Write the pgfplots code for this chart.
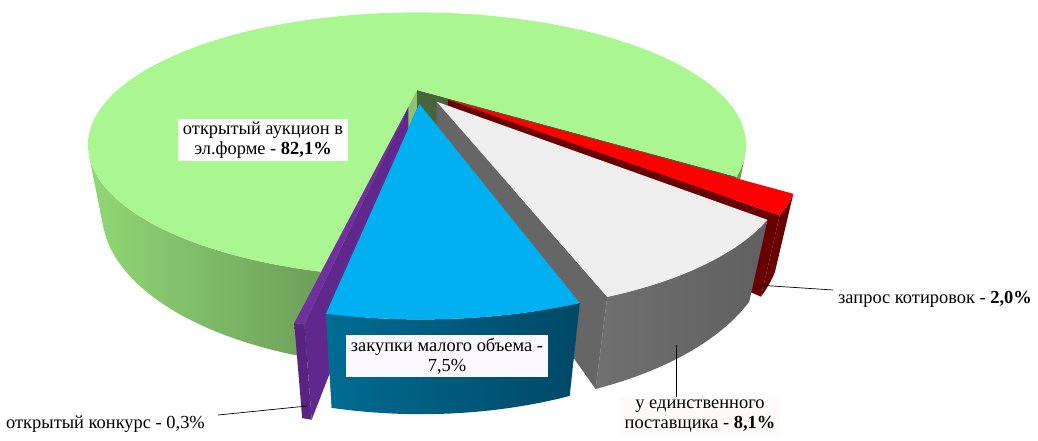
\documentclass[border=0pt]{standalone}
\usepackage{fontspec}
\setmainfont{Liberation Serif}
\usepackage{pgfplots}
\usepackage{pgfplotstable}
\pgfplotsset{compat=1.18}

\definecolor{gTop}{RGB}{170,246,144}
\definecolor{gWallL}{RGB}{145,215,118}
\definecolor{gWallR}{RGB}{108,158,88}
\definecolor{gFaceA}{RGB}{72,100,58}
\definecolor{gFaceB}{RGB}{140,195,110}
\definecolor{pTop}{RGB}{112,48,160}
\definecolor{pWall}{RGB}{88,36,128}
\definecolor{pFace}{RGB}{96,40,140}
\definecolor{bTop}{RGB}{0,176,240}
\definecolor{bWallL}{RGB}{0,108,146}
\definecolor{bWallR}{RGB}{0,72,102}
\definecolor{bFace}{RGB}{0,120,160}
\definecolor{wTop}{RGB}{238,238,238}
\definecolor{wWallL}{RGB}{112,112,112}
\definecolor{wWallR}{RGB}{96,96,96}
\definecolor{wFace}{RGB}{102,102,102}
\definecolor{rTop}{RGB}{255,0,0}
\definecolor{rWall}{RGB}{105,0,0}
\definecolor{boxA}{RGB}{251,249,255}
\definecolor{boxB}{RGB}{255,250,250}

\pgfplotstableread[col sep=comma]{
name,value
auction,82.1
contest,0.3
small,7.5
single,8.1
quote,2.0
}\piedata

% projection parameters (pixels)
\def\pcx{417}\def\pcy{90}\def\pf{672}\def\pD{2.244}\def\pc{0.9304}\def\ps{0.3665}\def\ph{0.225}
\def\ox{0}\def\oy{0}
\pgfmathdeclarefunction{pjx}{3}{\begingroup\pgfmathparse{\pcx+\pf*(\ox+(#2)*cos(#1))/(\pD+(\oy+(#2)*sin(#1))*\pc-(#3)*\ps)}\pgfmathsmuggle\pgfmathresult\endgroup}
\pgfmathdeclarefunction{pjy}{3}{\begingroup\pgfmathparse{\pcy-\pf*((\oy+(#2)*sin(#1))*\ps+(#3)*\pc)/(\pD+(\oy+(#2)*sin(#1))*\pc-(#3)*\ps)}\pgfmathsmuggle\pgfmathresult\endgroup}

\newcommand\setoff[3]{\pgfmathsetmacro\sm{(#1+#2)/2}\pgfmathsetmacro\ox{#3*cos(\sm)}\pgfmathsetmacro\oy{#3*sin(\sm)}}
\newcommand\face[2]{\fill[#2] ({pjx(0,0,0)},{pjy(0,0,0)}) -- ({pjx(#1,1,0)},{pjy(#1,1,0)}) -- ({pjx(#1,1,-\ph)},{pjy(#1,1,-\ph)}) -- ({pjx(0,0,-\ph)},{pjy(0,0,-\ph)}) -- cycle;}
\newcommand\wall[4]{\shade[left color=#3,right color=#4] plot[domain=#1:#2,samples=30,variable=\t] ({pjx(\t,1,0)},{pjy(\t,1,0)}) -- plot[domain=#2:#1,samples=30,variable=\t] ({pjx(\t,1,-\ph)},{pjy(\t,1,-\ph)}) -- cycle;}
\newcommand\toppart[4]{\fill[#3] ({pjx(0,0,0)},{pjy(0,0,0)}) -- plot[domain=#1:#2,samples=#4,variable=\t] ({pjx(\t,1,0)},{pjy(\t,1,0)}) -- cycle;}
\newcommand\lblfont{\fontsize{18.5}{20}\selectfont}

\begin{document}
\begin{tikzpicture}
\pgfplotstablegetelem{0}{value}\of\piedata \pgfmathsetmacro\vG{\pgfplotsretval*3.6}%
\pgfplotstablegetelem{1}{value}\of\piedata \pgfmathsetmacro\vP{\pgfplotsretval*3.6}%
\pgfplotstablegetelem{2}{value}\of\piedata \pgfmathsetmacro\vB{\pgfplotsretval*3.6}%
\pgfplotstablegetelem{3}{value}\of\piedata \pgfmathsetmacro\vW{\pgfplotsretval*3.6}%
\pgfplotstablegetelem{4}{value}\of\piedata \pgfmathsetmacro\vR{\pgfplotsretval*3.6}%
\def\aP{-101}%
\pgfmathsetmacro\aB{\aP+\vP}%
\pgfmathsetmacro\aW{\aB+\vB}%
\pgfmathsetmacro\aR{\aW+\vW}%
\pgfmathsetmacro\aG{\aR+\vR}%
\pgfmathsetmacro\eG{\aG+\vG}%
\begin{axis}[hide axis, scale only axis, width=1038bp, height=441bp,
  xmin=0, xmax=1038, ymin=0, ymax=441, y dir=reverse, clip=false]
\pgfplotsextra{%
  % green (not exploded)
  \setoff{\aG}{\eG}{0}%
  \face{\eG}{gFaceB}%
  \face{\aG}{gFaceA}%
  \wall{208.6}{\eG}{gWallL}{gWallR}%
  \wall{\aG}{-28.6}{gWallR}{gWallR}%
  \toppart{\aG}{\eG}{gTop}{150}%
  % red
  \setoff{\aR}{\aG}{0.13}%
  \face{\aR}{rWall}%
  \wall{\aR}{\aG}{rWall}{rWall}%
  \toppart{\aR}{\aG}{rTop}{6}%
  % white / grey
  \setoff{\aW}{\aR}{0.12}%
  \face{\aW}{wFace}%
  \wall{\aW}{\aR}{wWallL}{wWallR}%
  \toppart{\aW}{\aR}{wTop}{30}%
  % purple
  \setoff{\aP}{\aB}{0.15}%
  \face{\aB}{pFace}%
  \wall{\aP}{\aB}{pWall}{pWall}%
  \toppart{\aP}{\aB}{pTop}{3}%
  % blue
  \setoff{\aB}{\aW}{0.12}%
  \face{\aB}{bFace}%
  \wall{\aB}{\aW}{bWallL}{bWallR}%
  \toppart{\aB}{\aW}{bTop}{30}%
  % leader lines
  \draw[black, line width=0.7bp] (757,285) -- (833,290);
  \draw[black, line width=0.7bp] (676,345) -- (676,397);
  \draw[black, line width=0.7bp] (218,415) -- (307,406);
  % labels
  \node[fill=white, align=center, inner xsep=5bp, inner ysep=3bp, font=\lblfont] at (263,140) {открытый аукцион в\\эл.форме - \textbf{82,1\%}};
  \node[fill=boxA, align=center, inner xsep=5bp, inner ysep=3bp, font=\lblfont] at (447,356) {закупки малого объема -\\7,5\%};
  \node[fill=boxB, align=center, anchor=north, inner xsep=5bp, inner ysep=3bp, font=\lblfont] at (700,397) {у единственного\\поставщика - \textbf{8,1\%}};
  \node[anchor=west, inner sep=0pt, font=\lblfont] at (838,299) {запрос котировок - \textbf{2,0\%}};
  \node[anchor=west, inner sep=0pt, font=\lblfont] at (6,424) {открытый конкурс - 0,3\%};
  \coordinate (bbA) at (0,441);
  \coordinate (bbB) at (1038,0);
}
\end{axis}
\pgfresetboundingbox
\path (bbA) rectangle (bbB);
\end{tikzpicture}
\end{document}
